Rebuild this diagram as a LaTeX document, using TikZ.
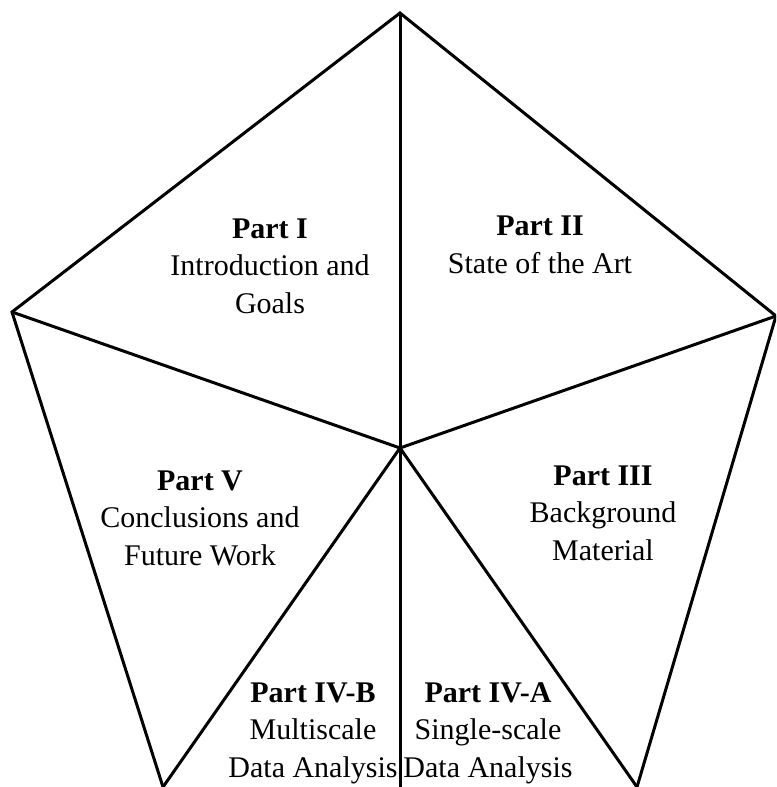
\documentclass[tikz,border=0pt]{standalone}
\usepackage{fontspec}
\setmainfont{Liberation Serif}
\usepackage{tikz}
\usetikzlibrary{positioning}
\tikzset{
	partnode/.style={
			align=center,
			font=\fontsize{12}{15}\selectfont,
			inner sep=0pt
		},
	edgeline/.style={
			line width=1.2pt,
			line join=miter,
			draw=black
		}
}

\begin{document}
\begin{tikzpicture}[x=0.4pt, y=-0.4pt]
\useasboundingbox (0,0) rectangle (776,787);
\clip (0,0) rectangle (776,787);

% corners of the pentagon
\coordinate (c) at (400,448);
\coordinate (top) at (400,13);
\coordinate (left) at (12,312);
\coordinate (right) at (776,316);
\coordinate (botleft) at (163,787);
\coordinate (botright) at (637,787);
\coordinate (botmid) at (400,790);

\draw[edgeline] (botleft) -- (left) -- (top) -- (right) -- (botright);
\draw[edgeline] (c) -- (top);
\draw[edgeline] (c) -- (left);
\draw[edgeline] (c) -- (right);
\draw[edgeline] (c) -- (botleft);
\draw[edgeline] (c) -- (botright);
\draw[edgeline] (c) -- (botmid);

\node[partnode] (p1) at (270,266) {\textbf{Part I}\\Introduction and\\Goals};
\node[partnode] (p2) at (540,245) {\textbf{Part II}\\State of the Art};
\node[partnode] (p3) at (603,513) {\textbf{Part III}\\Background\\Material};
\node[partnode] (p4a) at (488,733) {\textbf{Part IV-A}\\Single-scale\\Data Analysis};
\node[partnode] (p4b) at (313,733) {\textbf{Part IV-B}\\Multiscale\\Data Analysis};
\node[partnode] (p5) at (200,518) {\textbf{Part V}\\Conclusions and\\Future Work};
\end{tikzpicture}
\end{document}
